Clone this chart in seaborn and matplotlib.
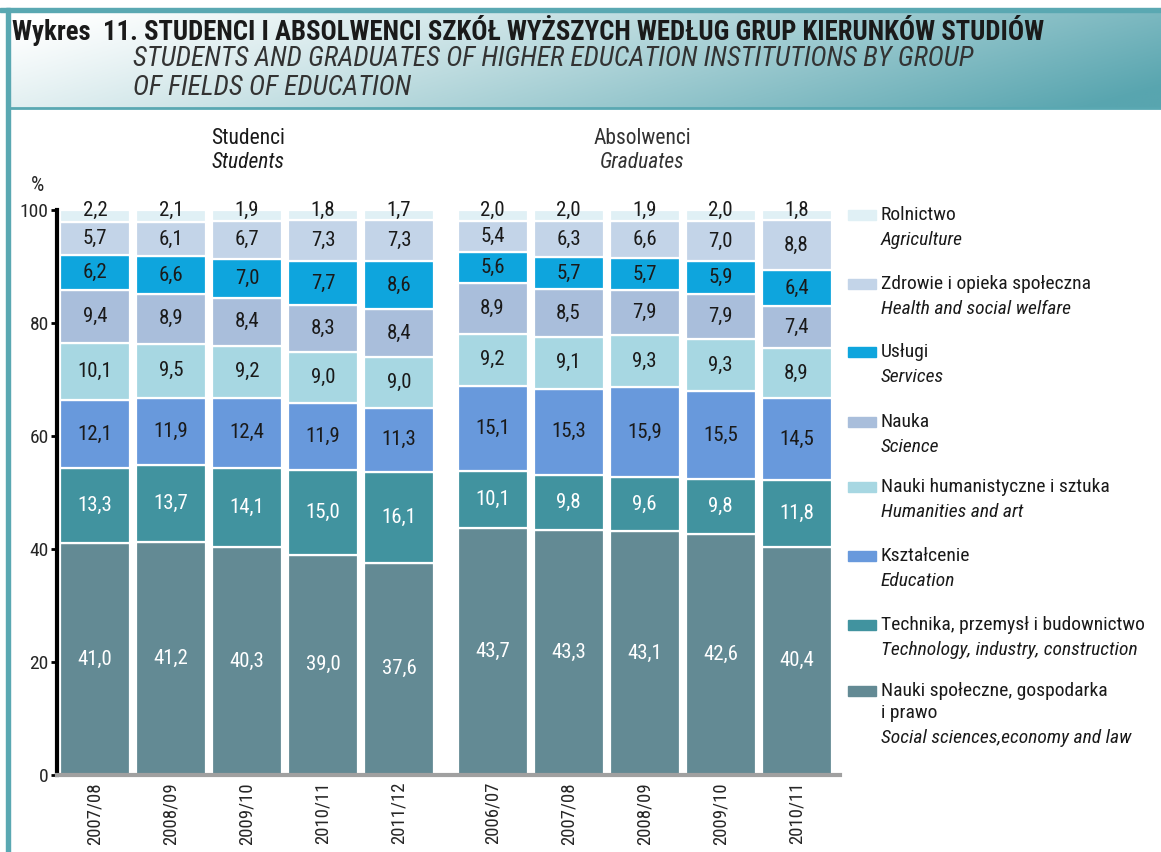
import numpy as np
import matplotlib
matplotlib.use("Agg")
import matplotlib.pyplot as plt
import seaborn as sns
from matplotlib import font_manager
from matplotlib.patches import Rectangle
from matplotlib.lines import Line2D

# --- data -------------------------------------------------------------
student_years = ["2007/08", "2008/09", "2009/10", "2010/11", "2011/12"]
graduate_years = ["2006/07", "2007/08", "2008/09", "2009/10", "2010/11"]

# stacking order: bottom -> top
fields_pl = ["Nauki społeczne, gospodarka\ni prawo", "Technika, przemysł i budownictwo",
             "Kształcenie", "Nauki humanistyczne i sztuka", "Nauka", "Usługi",
             "Zdrowie i opieka społeczna", "Rolnictwo"]
fields_en = ["Social sciences,economy and law", "Technology, industry, construction",
             "Education", "Humanities and art", "Science", "Services",
             "Health and social welfare", "Agriculture"]

students_social = [41.0, 41.2, 40.3, 39.0, 37.6]
students_tech = [13.3, 13.7, 14.1, 15.0, 16.1]
students_edu = [12.1, 11.9, 12.4, 11.9, 11.3]
students_hum = [10.1, 9.5, 9.2, 9.0, 9.0]
students_science = [9.4, 8.9, 8.4, 8.3, 8.4]
students_services = [6.2, 6.6, 7.0, 7.7, 8.6]
students_health = [5.7, 6.1, 6.7, 7.3, 7.3]
students_agri = [2.2, 2.1, 1.9, 1.8, 1.7]

grads_social = [43.7, 43.3, 43.1, 42.6, 40.4]
grads_tech = [10.1, 9.8, 9.6, 9.8, 11.8]
grads_edu = [15.1, 15.3, 15.9, 15.5, 14.5]
grads_hum = [9.2, 9.1, 9.3, 9.3, 8.9]
grads_science = [8.9, 8.5, 7.9, 7.9, 7.4]
grads_services = [5.6, 5.7, 5.7, 5.9, 6.4]
grads_health = [5.4, 6.3, 6.6, 7.0, 8.8]
grads_agri = [2.0, 2.0, 1.9, 2.0, 1.8]

colors = ["#638a94", "#41939f", "#6899dc", "#a7d7e2", "#a9bedb", "#0ea5dd",
          "#c3d4e8", "#e0f0f5"]
text_colors = ["white", "white", "#1a1a1a", "#1a1a1a", "#1a1a1a", "#1a1a1a",
               "#1a1a1a", "#1a1a1a"]

# --- style -------------------------------------------------------------
sns.set_theme(style="white")


def pick_font(names):
    for n in names:
        try:
            font_manager.findfont(n, fallback_to_default=False)
            return n
        except Exception:
            continue
    return "DejaVu Sans"


narrow = pick_font(["Liberation Sans Narrow", "Roboto Condensed", "Liberation Sans", "Roboto"])
plt.rcParams["font.family"] = [narrow, "DejaVu Sans"]

W, H = 1161, 852
fig = plt.figure(figsize=(W / 100, H / 100), dpi=100)
fig.patch.set_facecolor("white")


def fx(x):
    return x / W


def fy(y):
    return 1 - y / H


# header band with gradient
hax = fig.add_axes([fx(10), fy(108), 1 - fx(10), (108 - 10) / H])
gx = np.linspace(0, 1, 400)
gy = np.linspace(0, 1, 60)
GX, GY = np.meshgrid(gx, gy)
t = np.clip(0.85 * GX + 0.25 * GY - 0.05, 0, 1) ** 1.1
c0 = np.array([1.0, 1.0, 1.0])
c1 = np.array([0x58, 0xa5, 0xaf]) / 255
grad = c0[None, None, :] * (1 - t[..., None]) + c1[None, None, :] * t[..., None]
hax.imshow(grad, aspect="auto", extent=[0, 1, 0, 1], origin="upper")
hax.axis("off")

teal = "#5aa8b2"
fig.add_artist(Rectangle((0, fy(12)), 1, 4 / H, color=teal, transform=fig.transFigure))
fig.add_artist(Rectangle((fx(6), 0), 4 / W, fy(8), color=teal, transform=fig.transFigure))
fig.add_artist(Line2D([fx(10), 1], [fy(108), fy(108)], color=teal, lw=2,
                      transform=fig.transFigure))

fig.text(fx(12), fy(30), "Wykres  11. STUDENCI I ABSOLWENCI SZKÓŁ WYŻSZYCH WEDŁUG GRUP KIERUNKÓW STUDIÓW",
         fontsize=19.3, fontweight="bold", color="#1a1a1a", va="center", ha="left")
fig.text(fx(133), fy(59), "STUDENTS AND GRADUATES OF HIGHER EDUCATION INSTITUTIONS BY GROUP",
         fontsize=19.8, fontstyle="italic", color="#333333", va="center", ha="left")
fig.text(fx(133), fy(88), "OF FIELDS OF EDUCATION",
         fontsize=19.8, fontstyle="italic", color="#333333", va="center", ha="left")

# --- main axes -----------------------------------------------------------
ax = fig.add_axes([fx(57), fy(775), fx(840) - fx(57), (775 - 210) / H])

step = 76.0
gap = 17.5 / step
stu_pos = np.arange(len(student_years), dtype=float)
grad_pos = np.arange(len(graduate_years), dtype=float) + len(student_years) + gap
width = 70 / step

stu_data = [students_social, students_tech, students_edu, students_hum,
            students_science, students_services, students_health, students_agri]
grad_data = [grads_social, grads_tech, grads_edu, grads_hum,
             grads_science, grads_services, grads_health, grads_agri]

for pos, data in [(stu_pos, stu_data), (grad_pos, grad_data)]:
    bottom = np.zeros(len(pos))
    for i, vals in enumerate(data):
        vals = np.array(vals)
        ax.bar(pos, vals, bottom=bottom, width=width, color=colors[i],
               edgecolor="white", linewidth=1.6)
        for xp, b, v in zip(pos, bottom, vals):
            # top (agriculture) label sits on the thin segment
            yv = 99.9 if i == len(data) - 1 else b + v / 2
            ax.text(xp, yv, f"{v:.1f}".replace(".", ","), ha="center", va="center",
                    fontsize=15, color=text_colors[i], clip_on=False)
        bottom = bottom + vals

ax.set_xlim(-0.5, (840 - 95) / step)
ax.set_ylim(0, 100)
ax.set_yticks([0, 20, 40, 60, 80, 100])
ax.tick_params(axis="y", which="major", left=True, length=4, width=2, color="black",
               labelsize=14, pad=2)
ax.set_xticks(np.concatenate([stu_pos, grad_pos]))
ax.set_xticklabels(student_years + graduate_years, rotation=90, fontsize=13.5, va="top")
ax.tick_params(axis="x", length=0, pad=5)
for s in ["top", "right"]:
    ax.spines[s].set_visible(False)
ax.spines["left"].set_color("black")
ax.spines["left"].set_linewidth(3)
ax.spines["bottom"].set_color("#a0a0a0")
ax.spines["bottom"].set_linewidth(3)
ax.set_facecolor("white")
ax.grid(False)

fig.text(fx(38), fy(186), "%", fontsize=15, ha="center", va="center")

# group titles
fig.text(fx(248), fy(138), "Studenci", fontsize=15.5, ha="center", va="center", color="#1a1a1a")
fig.text(fx(248), fy(163), "Students", fontsize=15.5, fontstyle="italic", ha="center", va="center", color="#1a1a1a")
fig.text(fx(642), fy(138), "Absolwenci", fontsize=15.5, ha="center", va="center", color="#333333")
fig.text(fx(642), fy(163), "Graduates", fontsize=15.5, fontstyle="italic", ha="center", va="center", color="#333333")

# --- legend (top entry first) --------------------------------------------
legend_y = [215, 284, 352, 422, 487, 556, 625, 691]
order = list(range(len(fields_pl)))[::-1]
for y, i in zip(legend_y, order):
    fig.add_artist(Rectangle((fx(848), fy(y + 5)), 28 / W, 10 / H, color=colors[i],
                             transform=fig.transFigure))
    yy = y
    for ln in fields_pl[i].split("\n"):
        fig.text(fx(881), fy(yy), ln, fontsize=14, ha="left", va="center", color="#1a1a1a")
        yy += 22
    fig.text(fx(881), fy(yy + 3), fields_en[i], fontsize=14, fontstyle="italic",
             ha="left", va="center", color="#1a1a1a")

fig.savefig("out.png", dpi=100)
